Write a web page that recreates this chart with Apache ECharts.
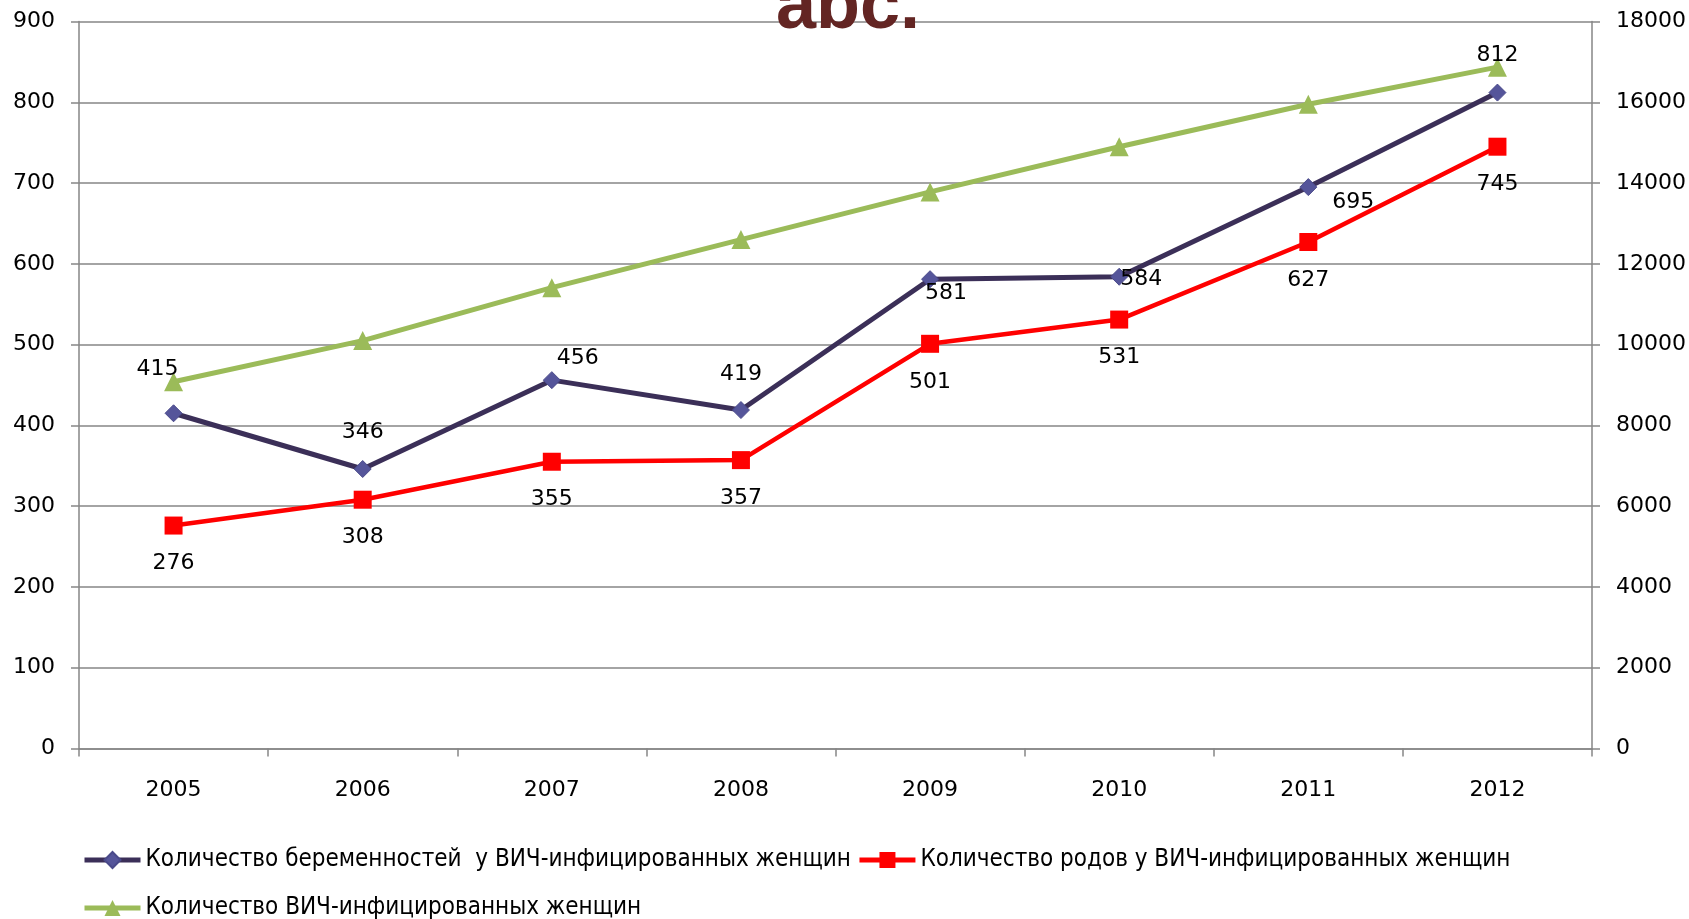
<!DOCTYPE html>
<html>
<head>
<meta charset="utf-8">
<script src="https://cdn.jsdelivr.net/npm/echarts@6/dist/echarts.min.js"></script>
<style>
    html, body { margin: 0; padding: 0; background: #fff; }
    #chart { width: 1689px; height: 919px; }
</style>
</head>
<body>
<div id="chart"></div>
<script>
// данные
var years = ['2005', '2006', '2007', '2008', '2009', '2010', '2011', '2012'];
var seriesNames = [
    'Количество беременностей  у ВИЧ-инфицированных женщин',
    'Количество родов у ВИЧ-инфицированных женщин',
    'Количество ВИЧ-инфицированных женщин'
];
var pregnancies = [415, 346, 456, 419, 581, 584, 695, 812];
var births = [276, 308, 355, 357, 501, 531, 627, 745];
var womenTotal = [9080, 10100, 11410, 12600, 13780, 14900, 15950, 16870];
var leftTicks = [0, 100, 200, 300, 400, 500, 600, 700, 800, 900];
var rightTicks = [0, 2000, 4000, 6000, 8000, 10000, 12000, 14000, 16000, 18000];

window.onload = function () {
    drawChart();
}

function drawChart() {
    let chart = echarts.init(document.querySelector('#chart'));
    let gridColor = '#868686';
    let numFont = 'DejaVu Sans';

    // смещения подписей (как в оригинале, вручную)
    let blueOffsets = [[-16, -44], [0, -37], [26, -22], [0, -36], [16, 14], [22, 3], [45, 15], [0, -37]];

    let axisCommon = {
        axisLine: { show: true, lineStyle: { color: gridColor, width: 1.5 } },
        axisTick: { show: true, length: 8, lineStyle: { color: gridColor, width: 1.5 } },
        splitLine: { show: false },
        axisLabel: {
            color: '#000', fontSize: 22, fontFamily: numFont, margin: 24,
            formatter: function (v) { return String(v); }
        }
    };

    let option = {
        animation: false,
        title: {
            text: 'abc.',
            left: 771,
            top: -33,
            textStyle: { color: '#632523', fontSize: 72, fontWeight: 'bold', fontFamily: 'Liberation Sans' }
        },
        grid: { left: 79, right: 95, top: 21.5, bottom: 170.5 },
        legend: {
            left: 77,
            top: 834,
            width: 1560,
            itemWidth: 56,
            itemHeight: 20,
            itemGap: 6,
            lineStyle: { width: 5 },
            textStyle: { fontSize: 24, fontFamily: 'DejaVu Sans Condensed, Liberation Sans', color: '#000', lineHeight: 42 },
            data: seriesNames
        },
        xAxis: {
            type: 'category',
            data: years,
            boundaryGap: true,
            axisLine: { lineStyle: { color: gridColor, width: 1.5 } },
            axisTick: { show: true, length: 8, lineStyle: { color: gridColor, width: 1.5 } },
            axisLabel: { color: '#000', fontSize: 22, fontFamily: numFont, margin: 31 }
        },
        yAxis: [
            Object.assign({}, axisCommon, {
                type: 'value',
                min: leftTicks[0],
                max: leftTicks[leftTicks.length - 1],
                interval: leftTicks[1] - leftTicks[0],
                position: 'left',
                splitLine: { show: true, lineStyle: { color: gridColor, width: 1.5 } }
            }),
            Object.assign({}, axisCommon, {
                type: 'value',
                min: rightTicks[0],
                max: rightTicks[rightTicks.length - 1],
                interval: rightTicks[1] - rightTicks[0],
                position: 'right'
            })
        ],
        series: [
            {
                name: seriesNames[0],
                type: 'line',
                yAxisIndex: 0,
                z: 4,
                symbol: 'diamond',
                symbolSize: 17,
                lineStyle: { color: '#3B2F58', width: 5 },
                itemStyle: { color: '#55559A', borderColor: '#4A4A8A', borderWidth: 1 },
                data: pregnancies.map(function (v, i) {
                    return {
                        value: v,
                        label: { show: true, position: 'inside', offset: blueOffsets[i] }
                    };
                }),
                label: { color: '#000', fontSize: 22, fontFamily: numFont }
            },
            {
                name: seriesNames[1],
                type: 'line',
                yAxisIndex: 0,
                z: 3,
                symbol: 'rect',
                symbolSize: 18,
                lineStyle: { color: '#FF0000', width: 4.5 },
                itemStyle: { color: '#FF0000' },
                label: {
                    show: true,
                    position: 'inside',
                    offset: [0, 38],
                    color: '#000',
                    fontSize: 22,
                    fontFamily: numFont
                },
                data: births
            },
            {
                name: seriesNames[2],
                type: 'line',
                yAxisIndex: 1,
                z: 2,
                symbol: 'triangle',
                symbolSize: 19,
                lineStyle: { color: '#9BBB59', width: 5 },
                itemStyle: { color: '#9BBB59' },
                data: womenTotal
            }
        ]
    };

    chart.setOption(option);
    return chart;
}
</script>
</body>
</html>
